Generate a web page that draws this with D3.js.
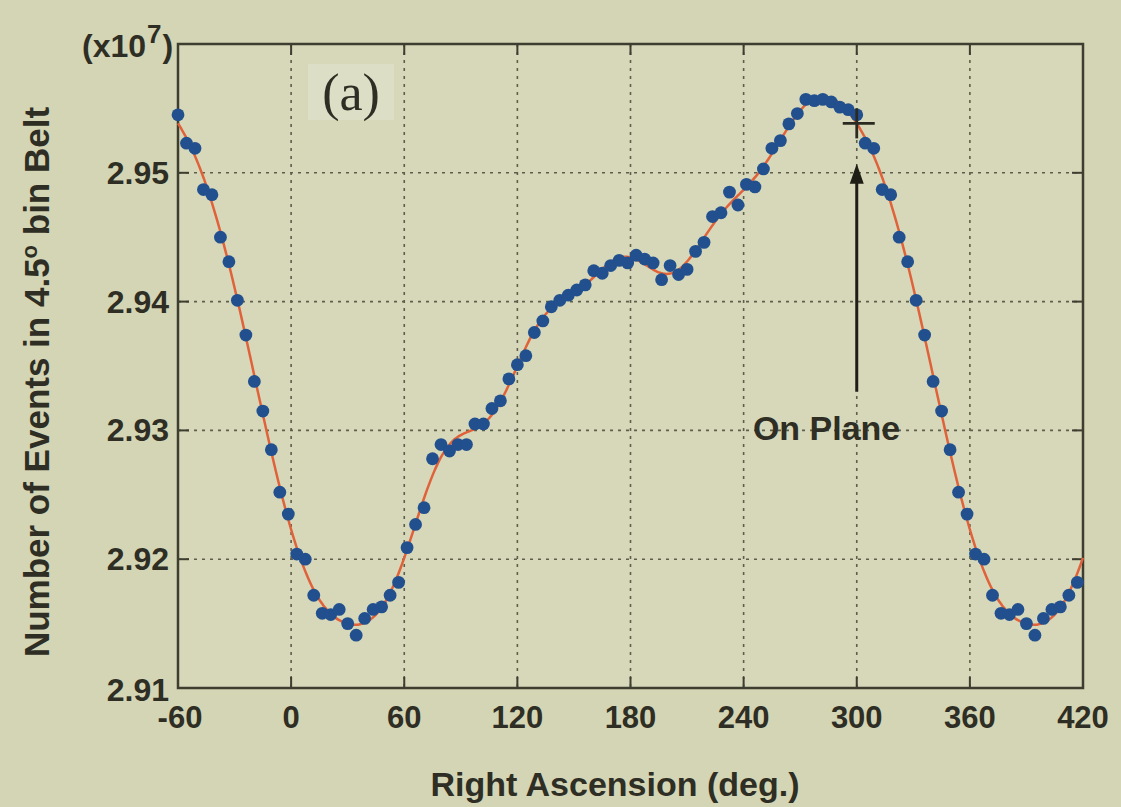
<!DOCTYPE html>
<html>
<head>
<meta charset="utf-8">
<script src="https://cdn.jsdelivr.net/npm/d3@7"></script>
<style>
  html, body { margin: 0; padding: 0; background: #d5d6b6; }
  svg { display: block; }
  text { font-family: "Liberation Sans", Arial, sans-serif; font-weight: bold; fill: #2e2e24; }
</style>
</head>
<body>
<div id="chart"></div>
<script>
// ---------------------------------------------------------
// DATA  (events per 4.5 deg bin, in units of 10^7)
// ---------------------------------------------------------
const binWidth = 4.5;   // deg
const binStart = 3;     // centre of the first bin, deg
const eventCounts = [
  2.9204, 2.9200, 2.9172, 2.9158, 2.9157, 2.9161, 2.9150, 2.9141, 2.9154, 2.9161,
  2.9163, 2.9172, 2.9182, 2.9209, 2.9227, 2.9240, 2.9278, 2.9289, 2.9284, 2.9289,
  2.9289, 2.9305, 2.9305, 2.9317, 2.9323, 2.9340, 2.9351, 2.9358, 2.9376, 2.9385,
  2.9396, 2.9401, 2.9405, 2.9409, 2.9413, 2.9424, 2.9422, 2.9428, 2.9432, 2.9430,
  2.9436, 2.9433, 2.9430, 2.9417, 2.9428, 2.9421, 2.9425, 2.9439, 2.9446, 2.9466,
  2.9469, 2.9485, 2.9475, 2.9491, 2.9489, 2.9503, 2.9519, 2.9525, 2.9538, 2.9546,
  2.9557, 2.9556, 2.9557, 2.9555, 2.9551, 2.9549, 2.9545, 2.9523, 2.9519, 2.9487,
  2.9483, 2.9450, 2.9431, 2.9401, 2.9374, 2.9338, 2.9315, 2.9285, 2.9252, 2.9235
];

const xTicks = [-60, 0, 60, 120, 180, 240, 300, 360, 420];
const yTicks = [2.91, 2.92, 2.93, 2.94, 2.95];
const xDomain = [-60, 420];
const yDomain = [2.91, 2.96];

// annotation
const planeRA = 300;
const planeLabel = "On Plane";
const panelLabel = "(a)";

// ---------------------------------------------------------
// LAYOUT
// ---------------------------------------------------------
const width = 1121, height = 807;
const plot = { left: 178, right: 1083, top: 44, bottom: 688 };
const ink = "#3d3d30";

const svg = d3.select("#chart").append("svg")
  .attr("width", width).attr("height", height);

svg.append("rect").attr("width", width).attr("height", height).attr("fill", "#d4d5b4");
svg.append("rect")
  .attr("x", plot.left).attr("y", plot.top)
  .attr("width", plot.right - plot.left).attr("height", plot.bottom - plot.top)
  .attr("fill", "#d7d8b9");

const x = d3.scaleLinear().domain(xDomain).range([plot.left, plot.right]);
const y = d3.scaleLinear().domain(yDomain).range([plot.bottom, plot.top]);

// ---------------------------------------------------------
// FIT: low order Fourier series over the 80 periodic bins
// ---------------------------------------------------------
const N = eventCounts.length;
const harmonics = 8;
const coef = d3.range(harmonics + 1).map(n => {
  let a = 0, b = 0;
  eventCounts.forEach((v, k) => {
    const th = n * (binStart + k * binWidth) * Math.PI / 180;
    a += v * Math.cos(th);
    b += v * Math.sin(th);
  });
  return n === 0 ? [a / N, 0] : [2 * a / N, 2 * b / N];
});
function fit(ra) {
  const th = ra * Math.PI / 180;
  return coef.reduce((s, [a, b], n) => s + a * Math.cos(n * th) + b * Math.sin(n * th), 0);
}

// points repeat every 360 deg, show -60..420
const points = [];
eventCounts.forEach((v, k) => {
  const ra = binStart + k * binWidth;
  [ra - 360, ra, ra + 360].forEach(r => {
    if (r >= xDomain[0] - 0.5 && r <= xDomain[1]) points.push({ ra: r, v });
  });
});

// ---------------------------------------------------------
// GRID + FRAME
// ---------------------------------------------------------
const grid = svg.append("g")
  .attr("stroke", "#5e5e4c").attr("stroke-width", 1.6).attr("stroke-dasharray", "3,5");

grid.selectAll(".vg").data(xTicks.slice(1, -1)).join("line")
  .attr("x1", d => x(d)).attr("x2", d => x(d))
  .attr("y1", plot.top).attr("y2", plot.bottom);

grid.selectAll(".hg").data(yTicks.slice(1)).join("line")
  .attr("x1", plot.left).attr("x2", plot.right)
  .attr("y1", d => y(d)).attr("y2", d => y(d));

// inward tick marks on all four sides
const ticks = svg.append("g").attr("stroke", ink).attr("stroke-width", 2);
const tl = 11;
xTicks.slice(1, -1).forEach(t => {
  ticks.append("line").attr("x1", x(t)).attr("x2", x(t)).attr("y1", plot.bottom).attr("y2", plot.bottom - tl);
  ticks.append("line").attr("x1", x(t)).attr("x2", x(t)).attr("y1", plot.top).attr("y2", plot.top + tl);
});
yTicks.slice(1).forEach(t => {
  ticks.append("line").attr("x1", plot.left).attr("x2", plot.left + tl).attr("y1", y(t)).attr("y2", y(t));
  ticks.append("line").attr("x1", plot.right).attr("x2", plot.right - tl).attr("y1", y(t)).attr("y2", y(t));
});

svg.append("rect")
  .attr("x", plot.left).attr("y", plot.top)
  .attr("width", plot.right - plot.left).attr("height", plot.bottom - plot.top)
  .attr("fill", "none").attr("stroke", ink).attr("stroke-width", 2.5);

// ---------------------------------------------------------
// TICK LABELS + TITLES
// ---------------------------------------------------------
svg.append("g").selectAll("text").data(xTicks).join("text")
  .attr("x", d => x(d) + (d === -60 ? 2 : 0)).attr("y", plot.bottom + 40)
  .attr("text-anchor", "middle")
  .attr("font-size", 31)
  .text(d => d);

svg.append("g").selectAll("text").data(yTicks).join("text")
  .attr("x", plot.left - 9).attr("y", d => y(d) + 11 + (d === 2.91 ? 2 : 0))
  .attr("text-anchor", "end")
  .attr("font-size", 32)
  .text(d => d3.format(".2f")(d));

svg.append("text")
  .attr("x", 615).attr("y", 796)
  .attr("text-anchor", "middle")
  .attr("font-size", 34)
  .text("Right Ascension (deg.)");

const yTitle = svg.append("text")
  .attr("transform", `translate(49, 382) rotate(-90)`)
  .attr("text-anchor", "middle")
  .attr("font-size", 35);
yTitle.append("tspan").text("Number of Events in 4.5");
yTitle.append("tspan").attr("baseline-shift", "super").attr("font-size", 22).text("o");
yTitle.append("tspan").text(" bin Belt");

const expo = svg.append("text")
  .attr("x", 82).attr("y", 57)
  .attr("font-size", 32);
expo.append("tspan").text("(x10");
expo.append("tspan").attr("dx", 1).attr("dy", -14).attr("font-size", 26).text("7");
expo.append("tspan").attr("dx", 1).attr("dy", 14).text(")");

// panel label
svg.append("rect").attr("x", 308).attr("y", 64).attr("width", 86).attr("height", 56)
  .attr("fill", "#dddec6");
svg.append("text")
  .attr("x", 351).attr("y", 110)
  .attr("text-anchor", "middle")
  .style("font-family", "'Liberation Serif', 'DejaVu Serif', serif")
  .style("font-weight", "normal")
  .attr("font-size", 52)
  .text(panelLabel);

// ---------------------------------------------------------
// FIT LINE + POINTS
// ---------------------------------------------------------
const line = d3.line().x(d => x(d)).y(d => y(fit(d))).curve(d3.curveBasis);
svg.append("path")
  .datum(d3.range(xDomain[0], xDomain[1] + 0.5, 1))
  .attr("d", line)
  .attr("fill", "none")
  .attr("stroke", "#e0623a")
  .attr("stroke-width", 2.5);

svg.append("g").selectAll("circle").data(points).join("circle")
  .attr("cx", d => x(d.ra)).attr("cy", d => y(d.v))
  .attr("r", 6.4)
  .attr("fill", "#22508e");

// ---------------------------------------------------------
// ON PLANE MARKER + ARROW
// ---------------------------------------------------------
const px = x(planeRA), py = y(fit(planeRA));
svg.append("g").attr("stroke", "#2a2a20").attr("stroke-width", 2.8)
  .call(g => {
    g.append("line").attr("x1", px - 14).attr("x2", px + 18).attr("y1", py).attr("y2", py);
    g.append("line").attr("x1", px).attr("x2", px).attr("y1", py - 15).attr("y2", py + 15);
  });

const arrowTop = y(2.9507), arrowBottom = y(2.9330);
svg.append("line")
  .attr("x1", px).attr("x2", px)
  .attr("y1", arrowBottom).attr("y2", arrowTop + 18)
  .attr("stroke", "#1e1e16").attr("stroke-width", 3);
svg.append("path")
  .attr("d", `M${px},${arrowTop} L${px - 7},${arrowTop + 20} L${px + 7},${arrowTop + 20} Z`)
  .attr("fill", "#1e1e16");

svg.append("text")
  .attr("x", x(284)).attr("y", y(2.9302) + 12)
  .attr("text-anchor", "middle")
  .attr("font-size", 34)
  .text(planeLabel);
</script>
</body>
</html>
